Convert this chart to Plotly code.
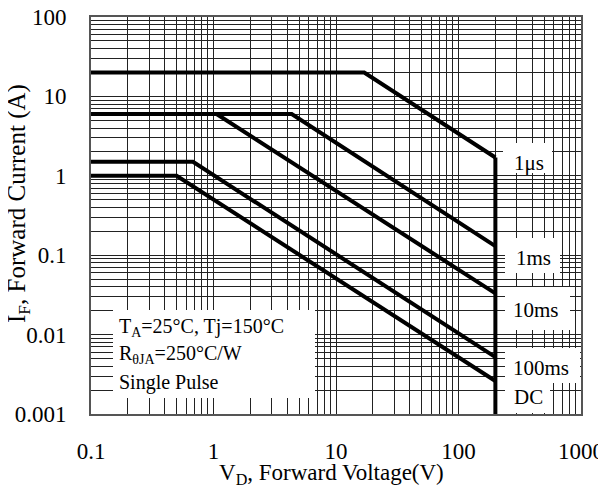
import plotly.graph_objects as go

# ---- data ----
pulse_labels = ["1μs", "1ms", "10ms", "100ms", "DC"]
flat_current = [20, 6, 6, 1.5, 1.0]          # A, horizontal part
knee_voltage = [17, 4.35, 1.06, 0.68, 0.5]   # V, where the line starts to fall
end_current = [1.7, 0.13, 0.033, 0.0052, 0.0026]  # A at V = 200
v_start = 0.1
v_max = 200
i_floor = 0.001

x_tickvals = [0.1, 1, 10, 100, 1000]
x_ticktext = ["0.1", "1", "10", "100", "1000"]
y_tickvals = [0.001, 0.01, 0.1, 1, 10, 100]
y_ticktext = ["0.001", "0.01", "0.1", "1", "10", "100"]

FONT = "Liberation Serif"

fig = go.Figure()
for lab, fc, kv, ec in zip(pulse_labels, flat_current, knee_voltage, end_current):
    fig.add_trace(go.Scatter(x=[v_start, kv, v_max], y=[fc, fc, ec], mode="lines",
                             line=dict(color="black", width=4), name=lab,
                             showlegend=False, hoverinfo="skip"))
# vertical voltage limit
fig.add_trace(go.Scatter(x=[v_max, v_max], y=[end_current[0], i_floor], mode="lines",
                         line=dict(color="black", width=4), showlegend=False,
                         hoverinfo="skip"))

# page offset (default body margin of the html page)
OFF = 8
# target plot rectangle in page pixels
L, R, T, B = 91, 581, 17, 414
W, H = 606 - OFF, 486 - OFF

def px(x):
    return (x - L) / (R - L)

def py(y):
    return (B - y) / (B - T)

def dx(x):  # pixel -> data value on the log x axis
    return 10 ** (-1 + 4 * px(x))

def dy(y):  # pixel -> data value on the log y axis
    return 10 ** (-3 + 5 * py(y))

# white boxes that hide the grid behind the labels
boxes = [
    (113, 315, 310, 398),
    (503, 552, 143, 173),
    (505, 560, 238, 273),
    (505, 570, 287, 330),
    (505, 580, 348, 383),
    (505, 550, 383, 413),
]
for x0, x1, y0, y1 in boxes:
    fig.add_shape(type="rect", xref="x", yref="y",
                  x0=dx(x0), x1=dx(x1), y0=dy(y1), y1=dy(y0),
                  fillcolor="white", line=dict(width=0), layer="between")

label_pos = [(512, 163), (514, 258), (511, 310), (511, 368), (512, 397)]
for lab, (xx, yy) in zip(pulse_labels, label_pos):
    fig.add_annotation(x=px(xx), y=py(yy), xref="paper", yref="paper", text=lab,
                       showarrow=False, xanchor="left", yanchor="middle",
                       font=dict(family=FONT, size=21, color="black"))

info_lines = ["T<sub>A</sub>=25°C, Tj=150°C", "R<sub>θJA</sub>=250°C/W", "Single Pulse"]
for txt, yy in zip(info_lines, [327, 354, 382]):
    fig.add_annotation(x=px(117), y=py(yy), xref="paper", yref="paper", text=txt,
                       showarrow=False, xanchor="left", yanchor="middle",
                       font=dict(family=FONT, size=20, color="black"))

# axis titles
fig.add_annotation(x=px(331), y=py(474), xref="paper", yref="paper",
                   text="V<sub>D</sub>, Forward Voltage(V)", showarrow=False,
                   xanchor="center", yanchor="middle",
                   font=dict(family=FONT, size=23, color="black"))
fig.add_annotation(x=px(18), y=py(204), xref="paper", yref="paper",
                   text="I<sub>F</sub>, Forward Current (A)", showarrow=False,
                   textangle=-90, xanchor="center", yanchor="middle",
                   font=dict(family=FONT, size=25, color="black"))

common = dict(showline=True, mirror=True, linecolor="#555555", linewidth=2,
              ticks="", showgrid=True, gridcolor="#222222", gridwidth=1,
              zeroline=False, automargin=False, ticklabeloverflow="allow",
              minor=dict(dtick="D1", showgrid=True, gridcolor="#222222",
                         gridwidth=1, ticks=""),
              tickfont=dict(family=FONT, size=23, color="black"))
fig.update_xaxes(type="log", range=[-1, 3], tickvals=x_tickvals, ticktext=x_ticktext,
                 ticklabelstandoff=15, **common)
fig.update_yaxes(type="log", range=[-3, 2], tickvals=y_tickvals, ticktext=y_ticktext,
                 ticklabelstandoff=18, **common)

fig.update_layout(width=W, height=H,
                  margin=dict(l=L - OFF, r=606 - R, t=T - OFF, b=486 - B),
                  paper_bgcolor="white", plot_bgcolor="white", showlegend=False)

fig.write_html("out.html")
